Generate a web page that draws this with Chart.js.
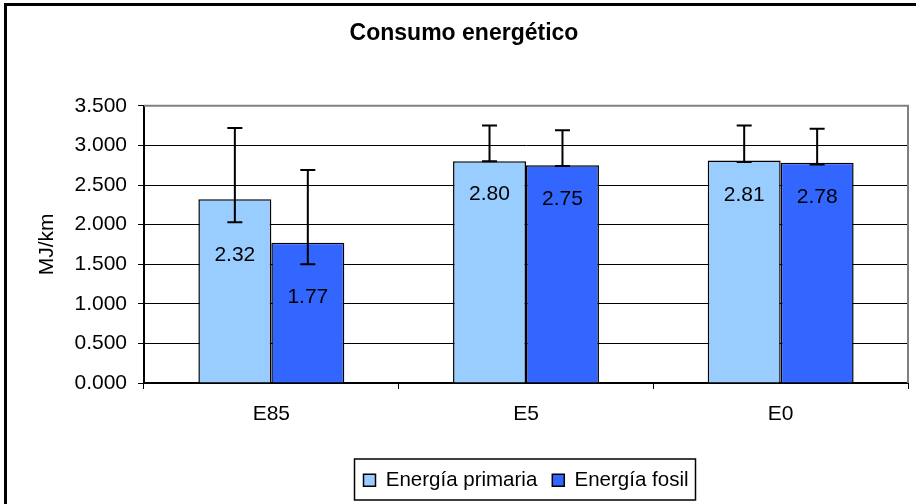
<!DOCTYPE html>
<html lang="es">
  <head>
    <meta charset="UTF-8" />
    <title>Consumo energético</title>
    <script src="https://cdn.jsdelivr.net/npm/chart.js"></script>
    <style>
      html, body { margin: 0; padding: 0; background: #fff; }
      canvas { display: block; }
    </style>
  </head>
  <body>
    <canvas id="energy-chart" width="916" height="504"></canvas>

    <script>
      // Datos
      const categorias = ["E85", "E5", "E0"];
      const energiaPrimaria = [2.32, 2.8, 2.81];
      const energiaFosil = [1.77, 2.75, 2.78];
      // Barras de error (límites superior e inferior)
      const primariaMax = [3.22, 3.25, 3.25];
      const primariaMin = [2.03, 2.8, 2.79];
      const fosilMax = [2.69, 3.19, 3.21];
      const fosilMin = [1.5, 2.74, 2.76];
      const ejeY = { min: 0, max: 3.5, paso: 0.5 };

      const FUENTE = "'Liberation Sans', Arial, sans-serif";
      Chart.defaults.font.family = FUENTE;
      Chart.defaults.color = "#000";

      // Marco exterior y borde gris del área de trazado
      const marco = {
        id: "marco",
        beforeDraw(chart) {
          const ctx = chart.ctx;
          ctx.save();
          ctx.fillStyle = "#fff";
          ctx.fillRect(0, 0, chart.width, chart.height);
          ctx.strokeStyle = "#000";
          ctx.lineWidth = 3;
          ctx.strokeRect(5.5, 4.5, chart.width * 2, chart.height * 2);
          ctx.restore();
        },
        beforeDatasetsDraw(chart) {
          const { ctx, chartArea: a } = chart;
          ctx.save();
          ctx.strokeStyle = "#808080";
          ctx.lineWidth = 2;
          ctx.beginPath();
          ctx.moveTo(a.left, a.top);
          ctx.lineTo(a.right, a.top);
          ctx.lineTo(a.right, a.bottom);
          ctx.stroke();
          ctx.restore();
        },
      };

      // Barras de error y etiquetas de valor
      const errores = {
        id: "errores",
        afterDatasetsDraw(chart) {
          const ctx = chart.ctx;
          const y = chart.scales.y;
          const limites = [
            [primariaMax, primariaMin],
            [fosilMax, fosilMin],
          ];
          ctx.save();
          chart.data.datasets.forEach((ds, d) => {
            const meta = chart.getDatasetMeta(d);
            meta.data.forEach((bar, i) => {
              const yAlto = y.getPixelForValue(limites[d][0][i]);
              const yBajo = y.getPixelForValue(limites[d][1][i]);
              ctx.strokeStyle = "#000";
              ctx.lineWidth = 2;
              ctx.beginPath();
              ctx.moveTo(bar.x, yAlto);
              ctx.lineTo(bar.x, yBajo);
              ctx.moveTo(bar.x - 7.5, yAlto);
              ctx.lineTo(bar.x + 7.5, yAlto);
              ctx.moveTo(bar.x - 7.5, yBajo);
              ctx.lineTo(bar.x + 7.5, yBajo);
              ctx.stroke();

              ctx.fillStyle = "#000";
              ctx.font = "21px " + FUENTE;
              ctx.textAlign = "center";
              ctx.textBaseline = "middle";
              ctx.fillText(ds.data[i].toFixed(2), bar.x, Math.max(bar.y, yBajo) + 33);
            });
          });
          ctx.restore();
        },
      };

      // Recuadro de la leyenda
      const recuadroLeyenda = {
        id: "recuadroLeyenda",
        afterDraw(chart) {
          const hb = chart.legend.legendHitBoxes;
          if (!hb || !hb.length) return;
          const ult = hb[hb.length - 1];
          const izq = hb[0].left - 9;
          const der = ult.left + ult.width + 7;
          const arr = hb[0].top - 11;
          const ctx = chart.ctx;
          ctx.save();
          ctx.strokeStyle = "#000";
          ctx.lineWidth = 1.5;
          ctx.strokeRect(izq, arr, der - izq, 41);
          ctx.restore();
        },
      };

      new Chart(document.getElementById("energy-chart"), {
        type: "bar",
        data: {
          labels: categorias,
          datasets: [
            {
              label: "Energía primaria",
              data: energiaPrimaria,
              backgroundColor: "#99CCFF",
              borderColor: "#000",
              borderWidth: 1.5,
            },
            {
              label: "Energía fosil",
              data: energiaFosil,
              backgroundColor: "#3366FF",
              borderColor: "#000",
              borderWidth: 1.5,
            },
          ],
        },
        options: {
          responsive: false,
          animation: false,
          devicePixelRatio: 1,
          categoryPercentage: 0.573,
          barPercentage: 1,
          layout: { padding: { left: 20, right: 8, top: 0, bottom: 3.5 } },
          plugins: {
            title: {
              display: true,
              text: "Consumo energético",
              font: { size: 23, weight: "bold" },
              padding: { top: 20.2, bottom: 58 },
            },
            legend: {
              position: "bottom",
              fullSize: false,
              labels: {
                boxWidth: 12,
                boxHeight: 12,
                padding: 15,
                font: { size: 20.5 },
              },
            },
            tooltip: { enabled: false },
          },
          scales: {
            x: {
              grid: {
                display: true,
                drawOnChartArea: false,
                drawTicks: true,
                tickLength: 6,
                color: "#000",
                offset: true,
              },
              border: { color: "#000", width: 2 },
              ticks: { font: { size: 21 }, padding: 13 },
              afterFit(scale) {
                scale.height = 72;
              },
            },
            y: {
              min: ejeY.min,
              max: ejeY.max,
              grid: { color: "#000", lineWidth: 1, tickLength: 6 },
              border: { color: "#000", width: 2 },
              ticks: {
                stepSize: ejeY.paso,
                padding: 11,
                font: { size: 21 },
                callback: (v) => v.toFixed(3),
              },
              title: {
                display: true,
                text: "MJ/km",
                font: { size: 21 },
                padding: { top: 15, bottom: 0 },
              },
              afterFit(scale) {
                scale.width = 124;
              },
            },
          },
        },
        plugins: [marco, errores, recuadroLeyenda],
      });
    </script>
  </body>
</html>
